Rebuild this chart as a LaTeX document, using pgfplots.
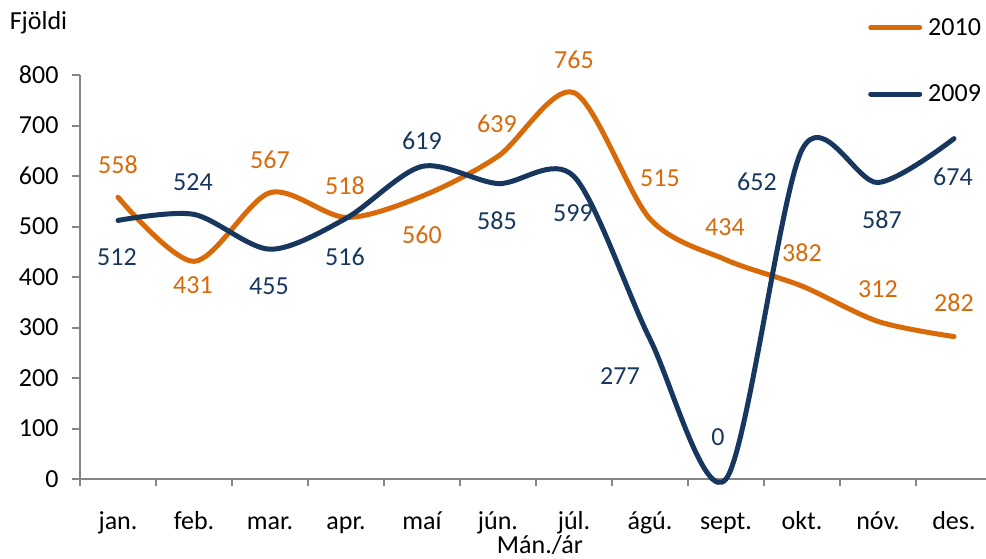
\documentclass[border=0pt]{standalone}
\usepackage{fontspec}
\setmainfont{Carlito}
\usepackage{pgfplots}
\usepackage{pgfplotstable}
\pgfplotsset{compat=1.18}
\definecolor{c2010}{RGB}{216,106,10}
\definecolor{c2009}{RGB}{23,55,94}
\definecolor{axisgray}{RGB}{134,134,134}
\newcommand\f{\fontsize{26bp}{31bp}\selectfont}

\pgfplotstableread{
x y dx dy
0 558 0 32
1 431 -1 -24
2 567 0 33
3 518 -1 32
4 560 0 -39
5 639 -1 32
6 765 0 33
7 515 10 41
8 434 -1 33
9 382 0 33
10 312 0 32
11 282 0 34
}\tabA

\pgfplotstableread{
x y dx dy
0 512 -1 -37
1 524 -1 32
2 455 -1 -37
3 516 -1 -38
4 619 0 26
5 585 -1 -37
6 599 -1 -37
7 277 -30 -37
8 0 -8 42
9 652 -45 -32
10 587 4 -37
11 674 -1 -38
}\tabB

\begin{document}
\begin{tikzpicture}
\begin{axis}[
  at={(0,0)}, anchor=south west,
  scale only axis, width=906bp, height=404bp,
  xmin=-0.5, xmax=11.421, ymin=0, ymax=800,
  clip=false,
  /pgf/number format/assume math mode=true,
  font=\f,
  axis x line*=bottom, axis y line*=left,
  axis line style={draw=axisgray, line width=2bp},
  tick align=outside,
  xtick={0,...,11},
  xticklabels={jan.,feb.,mar.,apr.,maí,jún.,júl.,ágú.,sept.,okt.,nóv.,des.},
  minor xtick={-0.5,0.5,...,10.5},
  ytick={0,100,...,800},
  major tick length=8bp, minor tick length=7bp,
  major x tick style={draw=none},
  minor x tick style={draw=axisgray, line width=2bp},
  major y tick style={draw=axisgray, line width=2bp},
  xticklabel style={font=\f, anchor=base, yshift=-42.5bp},
  yticklabel style={font=\f, xshift=-10bp},
  xlabel={Mán./ár}, ylabel={Fjöldi},
  every axis x label/.style={at={(axis description cs:0.5077,-0.1832)}, anchor=base, font=\f},
  every axis y label/.style={at={(axis description cs:-0.0458,1.1114)}, anchor=base, font=\f},
  legend style={at={(axis description cs:0.8698,1.1403)}, anchor=north west,
    draw=none, fill=none, inner sep=0pt, row sep=48bp, column sep=6bp,
    font=\f, nodes={inner sep=0pt}},
  legend cell align=left,
  legend image code/.code={\draw[line width=5bp, line cap=round] (0bp,0bp) -- (49bp,0bp);},
]
\addplot[c2010, line width=5bp, smooth, line cap=round, line join=round,
  point meta=y, nodes near coords,
  visualization depends on={\thisrow{dx}\as\dx},
  visualization depends on={\thisrow{dy}\as\dy},
  every node near coord/.append style={anchor=center, xshift=\dx bp, yshift=\dy bp, font=\f, text=c2010}]
  table[x=x,y=y] {\tabA};
\addlegendentry{2010}
\addplot[c2009, line width=5bp, smooth, line cap=round, line join=round,
  point meta=y, nodes near coords,
  visualization depends on={\thisrow{dx}\as\dx},
  visualization depends on={\thisrow{dy}\as\dy},
  every node near coord/.append style={anchor=center, xshift=\dx bp, yshift=\dy bp, font=\f, text=c2009}]
  table[x=x,y=y] {\tabB};
\addlegendentry{2009}
\end{axis}
\pgfresetboundingbox
\path[use as bounding box] (-80bp,-80bp) rectangle (906bp,479bp);
\end{tikzpicture}
\end{document}
